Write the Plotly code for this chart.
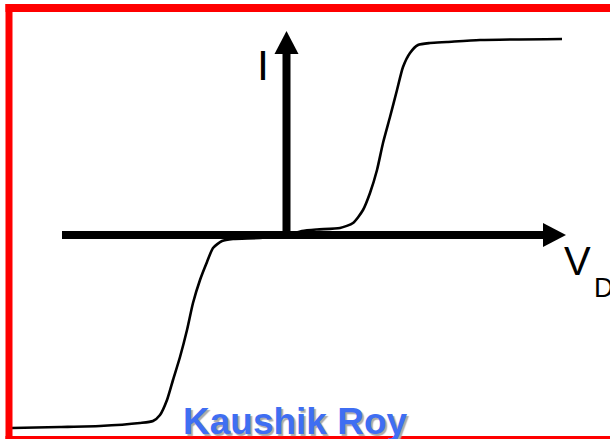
import plotly.graph_objects as go

# I-V curve of a Zener-like diode (arbitrary units)
vd_reverse = [-2.75, -2.27, -1.87, -1.47, -1.34, -1.27, -1.20, -1.14, -1.07, -1.00,
              -0.94, -0.87, -0.80, -0.74, -0.65, -0.54, -0.27, 0.0]
i_reverse = [-1.93, -1.92, -1.91, -1.88, -1.86, -1.80, -1.65, -1.45, -1.22, -0.95,
             -0.68, -0.45, -0.27, -0.13, -0.06, -0.04, -0.03, 0.0]
vd_forward = [0.15, 0.30, 0.53, 0.66, 0.76, 0.83, 0.90, 0.96, 1.03, 1.10, 1.16,
              1.23, 1.31, 1.43, 1.60, 1.93, 2.75]
i_forward = [0.04, 0.055, 0.07, 0.12, 0.25, 0.42, 0.65, 0.92, 1.18, 1.45, 1.68,
             1.82, 1.90, 1.92, 1.93, 1.95, 1.96]

vd = vd_reverse + vd_forward
cur = i_reverse + i_forward

W, H = 610, 439
def px(x):
    return x / W
def py(y):
    return 1 - y / H

fig = go.Figure()
fig.add_trace(go.Scatter(x=vd, y=cur, mode="lines",
                         line=dict(color="black", width=2.6, shape="spline", smoothing=0.6),
                         hoverinfo="skip", showlegend=False))

shapes = []
# axes (drawn in data coords)
shapes.append(dict(type="line", xref="x", yref="y", x0=-2.25, x1=2.58, y0=0, y1=0,
                   line=dict(color="black", width=8)))
shapes.append(dict(type="path", xref="x", yref="y",
                   path="M 2.56,-0.12 L 2.79,0 L 2.56,0.12 Z",
                   fillcolor="black", line=dict(color="black", width=0)))
shapes.append(dict(type="line", xref="x", yref="y", x0=-0.005, x1=-0.005, y0=-0.04, y1=1.83,
                   line=dict(color="black", width=8)))
shapes.append(dict(type="path", xref="x", yref="y",
                   path="M -0.125,1.81 L -0.005,2.04 L 0.115,1.81 Z",
                   fillcolor="black", line=dict(color="black", width=0)))
# red frame
red = "#FF0000"
shapes.append(dict(type="rect", xref="paper", yref="paper", x0=px(5.5), x1=px(12.5), y0=py(4), y1=py(439),
                   fillcolor=red, line=dict(width=0), layer="above"))
shapes.append(dict(type="rect", xref="paper", yref="paper", x0=px(5.5), x1=px(610), y0=py(4), y1=py(12),
                   fillcolor=red, line=dict(width=0), layer="above"))
shapes.append(dict(type="rect", xref="paper", yref="paper", x0=px(5.5), x1=px(610), y0=py(436), y1=py(439),
                   fillcolor=red, line=dict(width=0), layer="above"))

font = "Arial, Liberation Sans, sans-serif"
annotations = [
    dict(text="I", xref="paper", yref="paper", x=px(263), y=py(64.5), xanchor="center", yanchor="middle",
         showarrow=False, font=dict(family=font, size=43, color="black")),
    dict(text="V", xref="paper", yref="paper", x=px(577), y=py(261), xanchor="center", yanchor="middle",
         showarrow=False, font=dict(family=font, size=40, color="black")),
    dict(text="D", xref="paper", yref="paper", x=px(592), y=py(287.5), xanchor="left", yanchor="middle",
         showarrow=False, font=dict(family=font, size=27, color="black")),
    dict(text="<b>Kaushik Roy</b>", xref="paper", yref="paper", x=px(295), y=py(421.5), xanchor="center",
         yanchor="middle", showarrow=False,
         font=dict(family=font, size=37, color="#3F6EF2", shadow="2px 2px 1px #aaaaaa")),
]

fig.update_layout(
    width=W, height=H, autosize=False,
    margin=dict(l=0, r=0, t=0, b=0),
    paper_bgcolor="white", plot_bgcolor="white",
    xaxis=dict(visible=False, range=[-2.87, 3.23], fixedrange=True),
    yaxis=dict(visible=False, range=[-2.04, 2.35], fixedrange=True),
    shapes=shapes, annotations=annotations, showlegend=False,
)
fig.write_html("out.html", config={"displayModeBar": False},
               post_script="document.body.style.margin='0';document.body.style.overflow='hidden';")
